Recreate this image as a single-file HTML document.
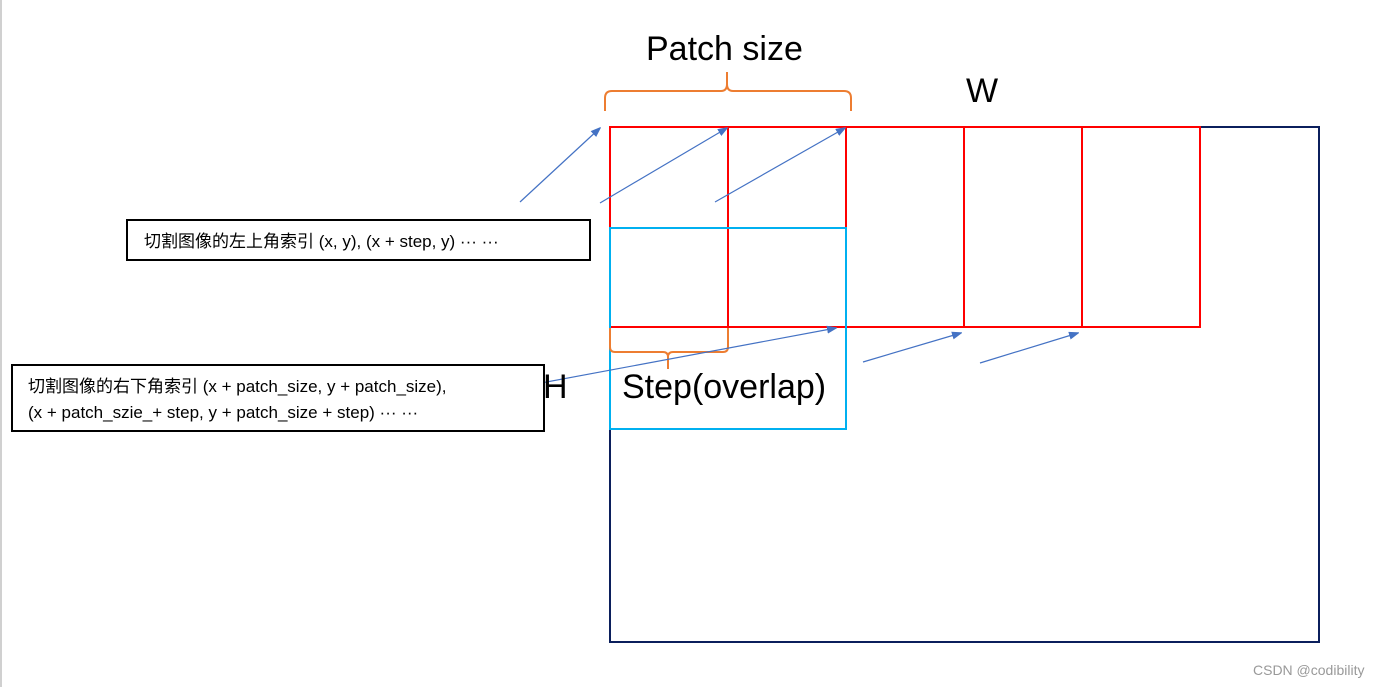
<!DOCTYPE html>
<html><head><meta charset="utf-8"><style>
html,body{margin:0;padding:0;background:#fff;}
svg{display:block;}
text{font-family:"Liberation Sans","Noto Sans CJK SC",sans-serif;}
</style></head><body>
<svg width="1390" height="687" viewBox="0 0 1390 687" xmlns="http://www.w3.org/2000/svg">
<defs><marker id="a" markerWidth="10" markerHeight="8" refX="9" refY="4" orient="auto" markerUnits="userSpaceOnUse"><path d="M0,0 L11,4 L0,8 z" fill="#4472C4"/></marker></defs>
<line x1="1" y1="0" x2="1" y2="687" stroke="#d0d0d0" stroke-width="2"/>
<rect x="610" y="127" width="709" height="515" fill="none" stroke="#0b1f5c" stroke-width="2"/>
<g fill="none" stroke="#ff0000" stroke-width="2">
<rect x="610" y="127" width="590" height="200"/>
<line x1="728" y1="127" x2="728" y2="327"/>
<line x1="846" y1="127" x2="846" y2="327"/>
<line x1="964" y1="127" x2="964" y2="327"/>
<line x1="1082" y1="127" x2="1082" y2="327"/>
</g>
<rect x="610" y="228" width="236" height="201" fill="none" stroke="#00b0f0" stroke-width="2"/>
<g fill="none" stroke="#ED7D31" stroke-width="2">
<path d="M605,111 L605,98 Q605,91 612,91 L721,91 Q727,91 727,84 L727,72 M727,84 Q727,91 733,91 L844,91 Q851,91 851,98 L851,111"/>
<path d="M610,328 L610,347 Q610,352 615,352 L663,352 Q668,352 668,357 L668,369 M668,357 Q668,352 673,352 L723,352 Q728,352 728,347 L728,328"/>
</g>
<g stroke="#4472C4" stroke-width="1.2" marker-end="url(#a)">
<line x1="520" y1="202" x2="600" y2="128"/>
<line x1="600" y1="203" x2="727" y2="128"/>
<line x1="715" y1="202" x2="845" y2="128"/>
<line x1="525" y1="386" x2="836" y2="328"/>
<line x1="863" y1="362" x2="961" y2="333"/>
<line x1="980" y1="363" x2="1078" y2="333"/>
</g>
<rect x="127" y="220" width="463" height="40" fill="#fff" stroke="#000" stroke-width="2"/>
<text x="144" y="247" font-size="17">切割图像的左上角索引 (x, y), (x + step, y) ··· ···</text>
<rect x="12" y="365" width="532" height="66" fill="#fff" stroke="#000" stroke-width="2"/>
<text x="28" y="392" font-size="17">切割图像的右下角索引 (x + patch_size, y + patch_size),</text>
<text x="28" y="418" font-size="17">(x + patch_szie_+ step, y + patch_size + step) ··· ···</text>
<text x="646" y="60" font-size="34">Patch size</text>
<text x="966" y="102" font-size="34">W</text>
<text x="543" y="398" font-size="34">H</text>
<text x="622" y="398" font-size="34">Step(overlap)</text>
<text x="1253" y="675" font-size="14" fill="#999">CSDN @codibility</text>
</svg>
</body></html>
